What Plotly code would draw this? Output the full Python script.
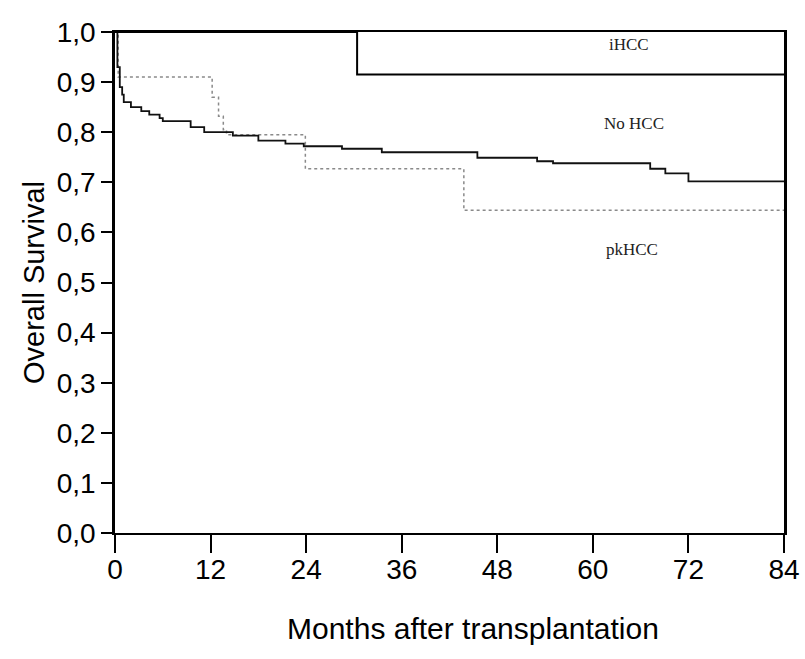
import plotly.graph_objects as go

# Kaplan-Meier step data (months, survival probability)
ihcc_t = [0, 30.4, 84]
ihcc_s = [1.0, 0.915, 0.915]

nohcc_t = [0, 0.3, 0.6, 0.9, 1.1, 2.0, 3.3, 4.3, 5.6, 6.0, 9.5, 11.2, 14.8,
           18.0, 21.4, 23.7, 28.5, 33.5, 45.5, 53.0, 55.0, 67.2, 69.1, 72.0, 84]
nohcc_s = [1.0, 0.93, 0.89, 0.875, 0.86, 0.85, 0.842, 0.835, 0.828, 0.822,
           0.81, 0.80, 0.793, 0.783, 0.777, 0.772, 0.767, 0.76, 0.749, 0.742,
           0.738, 0.727, 0.718, 0.702, 0.702]

pkhcc_t = [0, 0.4, 12.2, 13.0, 13.6, 14.0, 23.9, 43.8, 84]
pkhcc_s = [1.0, 0.91, 0.87, 0.832, 0.805, 0.795, 0.727, 0.644, 0.644]

x_ticks = [0, 12, 24, 36, 48, 60, 72, 84]
y_ticks = [0.0, 0.1, 0.2, 0.3, 0.4, 0.5, 0.6, 0.7, 0.8, 0.9, 1.0]

group_labels = [("iHCC", 64.6, 0.976), ("No HCC", 65.2, 0.817), ("pkHCC", 64.9, 0.565)]

fig = go.Figure()
fig.add_trace(go.Scatter(x=pkhcc_t, y=pkhcc_s, mode="lines", line_shape="hv",
                         line=dict(color="#8a8a8a", width=1.5, dash="dot"),
                         name="pkHCC", cliponaxis=False))
fig.add_trace(go.Scatter(x=nohcc_t, y=nohcc_s, mode="lines", line_shape="hv",
                         line=dict(color="#111111", width=1.8),
                         name="No HCC", cliponaxis=False))
fig.add_trace(go.Scatter(x=ihcc_t, y=ihcc_s, mode="lines", line_shape="hv",
                         line=dict(color="#000000", width=2),
                         name="iHCC", cliponaxis=False))

for text, xv, yv in group_labels:
    fig.add_annotation(x=xv, y=yv, text=text, showarrow=False,
                       font=dict(family="Liberation Serif", size=17, color="#222"))

# x-axis title, set slightly right of the plot centre
fig.add_annotation(xref="paper", yref="paper", x=0.535, y=-0.19, yanchor="middle",
                   text="Months after transplantation", showarrow=False,
                   font=dict(size=30, color="#000"))

fig.update_layout(
    width=805, height=659,
    margin=dict(l=115, r=21, t=32, b=126),
    paper_bgcolor="white", plot_bgcolor="white",
    showlegend=False,
    separators=",.",
    font=dict(family="Liberation Sans, Arial", color="#000"),
)
fig.update_xaxes(
    range=[0, 84], tickvals=x_ticks, ticks="outside", ticklen=18, tickwidth=1.5,
    tickcolor="black", showline=True, linecolor="black", linewidth=2, mirror=True,
    showgrid=False, zeroline=False, tickfont=dict(size=28), automargin=False,
    ticklabelstandoff=-8,
)
fig.update_yaxes(
    range=[0, 1], tickvals=y_ticks, tickformat=".1f", ticks="outside", ticklen=11,
    tickwidth=1.5, tickcolor="black", showline=True, linecolor="black", linewidth=2.5,
    mirror=True, showgrid=False, zeroline=False, tickfont=dict(size=28), automargin=False,
    title=dict(text="Overall Survival", font=dict(size=29), standoff=4),
)

fig.write_html("out.html")
